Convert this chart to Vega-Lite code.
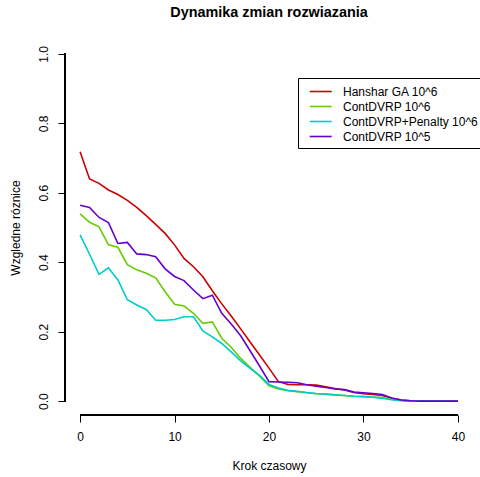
{
  "$schema": "https://vega.github.io/schema/vega-lite/v6.json",
  "width": 408,
  "height": 375,
  "autosize": "none",
  "padding": {"left": 65, "top": 40, "right": 7, "bottom": 62},
  "background": "white",
  "config": {
    "view": {"stroke": null},
    "font": "Liberation Sans",
    "axis": {
      "domain": false,
      "grid": false,
      "tickColor": "black",
      "tickSize": 7,
      "labelFont": "Liberation Sans",
      "labelFontSize": 12,
      "labelColor": "black",
      "titleFont": "Liberation Sans",
      "titleFontSize": 12,
      "titleFontWeight": "normal",
      "titleColor": "black"
    }
  },
  "title": {
    "text": "Dynamika zmian rozwiazania",
    "font": "Liberation Sans",
    "fontSize": 14.4,
    "fontWeight": "bold",
    "color": "black",
    "anchor": "middle",
    "frame": "group",
    "baseline": "alphabetic",
    "offset": 9
  },
  "data": {
    "values": [
      {"t":0,"s":"Hanshar GA 10^6","v":0.718},{"t":1,"s":"Hanshar GA 10^6","v":0.640},{"t":2,"s":"Hanshar GA 10^6","v":0.627},{"t":3,"s":"Hanshar GA 10^6","v":0.608},{"t":4,"s":"Hanshar GA 10^6","v":0.595},{"t":5,"s":"Hanshar GA 10^6","v":0.578},{"t":6,"s":"Hanshar GA 10^6","v":0.558},{"t":7,"s":"Hanshar GA 10^6","v":0.534},{"t":8,"s":"Hanshar GA 10^6","v":0.509},{"t":9,"s":"Hanshar GA 10^6","v":0.483},{"t":10,"s":"Hanshar GA 10^6","v":0.450},{"t":11,"s":"Hanshar GA 10^6","v":0.411},{"t":12,"s":"Hanshar GA 10^6","v":0.387},{"t":13,"s":"Hanshar GA 10^6","v":0.358},{"t":14,"s":"Hanshar GA 10^6","v":0.318},{"t":15,"s":"Hanshar GA 10^6","v":0.280},{"t":16,"s":"Hanshar GA 10^6","v":0.245},{"t":17,"s":"Hanshar GA 10^6","v":0.208},{"t":18,"s":"Hanshar GA 10^6","v":0.170},{"t":19,"s":"Hanshar GA 10^6","v":0.133},{"t":20,"s":"Hanshar GA 10^6","v":0.095},{"t":21,"s":"Hanshar GA 10^6","v":0.056},{"t":22,"s":"Hanshar GA 10^6","v":0.048},{"t":23,"s":"Hanshar GA 10^6","v":0.047},{"t":24,"s":"Hanshar GA 10^6","v":0.047},{"t":25,"s":"Hanshar GA 10^6","v":0.046},{"t":26,"s":"Hanshar GA 10^6","v":0.041},{"t":27,"s":"Hanshar GA 10^6","v":0.036},{"t":28,"s":"Hanshar GA 10^6","v":0.032},{"t":29,"s":"Hanshar GA 10^6","v":0.025},{"t":30,"s":"Hanshar GA 10^6","v":0.021},{"t":31,"s":"Hanshar GA 10^6","v":0.019},{"t":32,"s":"Hanshar GA 10^6","v":0.016},{"t":33,"s":"Hanshar GA 10^6","v":0.008},{"t":34,"s":"Hanshar GA 10^6","v":0.003},{"t":35,"s":"Hanshar GA 10^6","v":0.001},{"t":36,"s":"Hanshar GA 10^6","v":0.0},{"t":37,"s":"Hanshar GA 10^6","v":0.0},{"t":38,"s":"Hanshar GA 10^6","v":0.0},{"t":39,"s":"Hanshar GA 10^6","v":0.0},{"t":40,"s":"Hanshar GA 10^6","v":0.0},
      {"t":0,"s":"ContDVRP 10^6","v":0.539},{"t":1,"s":"ContDVRP 10^6","v":0.515},{"t":2,"s":"ContDVRP 10^6","v":0.502},{"t":3,"s":"ContDVRP 10^6","v":0.450},{"t":4,"s":"ContDVRP 10^6","v":0.443},{"t":5,"s":"ContDVRP 10^6","v":0.393},{"t":6,"s":"ContDVRP 10^6","v":0.378},{"t":7,"s":"ContDVRP 10^6","v":0.368},{"t":8,"s":"ContDVRP 10^6","v":0.355},{"t":9,"s":"ContDVRP 10^6","v":0.315},{"t":10,"s":"ContDVRP 10^6","v":0.279},{"t":11,"s":"ContDVRP 10^6","v":0.274},{"t":12,"s":"ContDVRP 10^6","v":0.253},{"t":13,"s":"ContDVRP 10^6","v":0.224},{"t":14,"s":"ContDVRP 10^6","v":0.228},{"t":15,"s":"ContDVRP 10^6","v":0.181},{"t":16,"s":"ContDVRP 10^6","v":0.155},{"t":17,"s":"ContDVRP 10^6","v":0.123},{"t":18,"s":"ContDVRP 10^6","v":0.097},{"t":19,"s":"ContDVRP 10^6","v":0.072},{"t":20,"s":"ContDVRP 10^6","v":0.044},{"t":21,"s":"ContDVRP 10^6","v":0.035},{"t":22,"s":"ContDVRP 10^6","v":0.030},{"t":23,"s":"ContDVRP 10^6","v":0.027},{"t":24,"s":"ContDVRP 10^6","v":0.024},{"t":25,"s":"ContDVRP 10^6","v":0.021},{"t":26,"s":"ContDVRP 10^6","v":0.020},{"t":27,"s":"ContDVRP 10^6","v":0.018},{"t":28,"s":"ContDVRP 10^6","v":0.016},{"t":29,"s":"ContDVRP 10^6","v":0.014},{"t":30,"s":"ContDVRP 10^6","v":0.013},{"t":31,"s":"ContDVRP 10^6","v":0.012},{"t":32,"s":"ContDVRP 10^6","v":0.010},{"t":33,"s":"ContDVRP 10^6","v":0.005},{"t":34,"s":"ContDVRP 10^6","v":0.002},{"t":35,"s":"ContDVRP 10^6","v":0.0},{"t":36,"s":"ContDVRP 10^6","v":0.0},{"t":37,"s":"ContDVRP 10^6","v":0.0},{"t":38,"s":"ContDVRP 10^6","v":0.0},{"t":39,"s":"ContDVRP 10^6","v":0.0},{"t":40,"s":"ContDVRP 10^6","v":0.0},
      {"t":0,"s":"ContDVRP+Penalty 10^6","v":0.479},{"t":1,"s":"ContDVRP+Penalty 10^6","v":0.423},{"t":2,"s":"ContDVRP+Penalty 10^6","v":0.365},{"t":3,"s":"ContDVRP+Penalty 10^6","v":0.384},{"t":4,"s":"ContDVRP+Penalty 10^6","v":0.349},{"t":5,"s":"ContDVRP+Penalty 10^6","v":0.292},{"t":6,"s":"ContDVRP+Penalty 10^6","v":0.277},{"t":7,"s":"ContDVRP+Penalty 10^6","v":0.264},{"t":8,"s":"ContDVRP+Penalty 10^6","v":0.233},{"t":9,"s":"ContDVRP+Penalty 10^6","v":0.233},{"t":10,"s":"ContDVRP+Penalty 10^6","v":0.235},{"t":11,"s":"ContDVRP+Penalty 10^6","v":0.243},{"t":12,"s":"ContDVRP+Penalty 10^6","v":0.243},{"t":13,"s":"ContDVRP+Penalty 10^6","v":0.202},{"t":14,"s":"ContDVRP+Penalty 10^6","v":0.185},{"t":15,"s":"ContDVRP+Penalty 10^6","v":0.166},{"t":16,"s":"ContDVRP+Penalty 10^6","v":0.142},{"t":17,"s":"ContDVRP+Penalty 10^6","v":0.116},{"t":18,"s":"ContDVRP+Penalty 10^6","v":0.094},{"t":19,"s":"ContDVRP+Penalty 10^6","v":0.074},{"t":20,"s":"ContDVRP+Penalty 10^6","v":0.048},{"t":21,"s":"ContDVRP+Penalty 10^6","v":0.038},{"t":22,"s":"ContDVRP+Penalty 10^6","v":0.031},{"t":23,"s":"ContDVRP+Penalty 10^6","v":0.028},{"t":24,"s":"ContDVRP+Penalty 10^6","v":0.025},{"t":25,"s":"ContDVRP+Penalty 10^6","v":0.022},{"t":26,"s":"ContDVRP+Penalty 10^6","v":0.020},{"t":27,"s":"ContDVRP+Penalty 10^6","v":0.018},{"t":28,"s":"ContDVRP+Penalty 10^6","v":0.016},{"t":29,"s":"ContDVRP+Penalty 10^6","v":0.014},{"t":30,"s":"ContDVRP+Penalty 10^6","v":0.013},{"t":31,"s":"ContDVRP+Penalty 10^6","v":0.011},{"t":32,"s":"ContDVRP+Penalty 10^6","v":0.008},{"t":33,"s":"ContDVRP+Penalty 10^6","v":0.004},{"t":34,"s":"ContDVRP+Penalty 10^6","v":0.001},{"t":35,"s":"ContDVRP+Penalty 10^6","v":0.0},{"t":36,"s":"ContDVRP+Penalty 10^6","v":0.0},{"t":37,"s":"ContDVRP+Penalty 10^6","v":0.0},{"t":38,"s":"ContDVRP+Penalty 10^6","v":0.0},{"t":39,"s":"ContDVRP+Penalty 10^6","v":0.0},{"t":40,"s":"ContDVRP+Penalty 10^6","v":0.0},
      {"t":0,"s":"ContDVRP 10^5","v":0.564},{"t":1,"s":"ContDVRP 10^5","v":0.558},{"t":2,"s":"ContDVRP 10^5","v":0.529},{"t":3,"s":"ContDVRP 10^5","v":0.514},{"t":4,"s":"ContDVRP 10^5","v":0.454},{"t":5,"s":"ContDVRP 10^5","v":0.457},{"t":6,"s":"ContDVRP 10^5","v":0.424},{"t":7,"s":"ContDVRP 10^5","v":0.422},{"t":8,"s":"ContDVRP 10^5","v":0.416},{"t":9,"s":"ContDVRP 10^5","v":0.381},{"t":10,"s":"ContDVRP 10^5","v":0.359},{"t":11,"s":"ContDVRP 10^5","v":0.347},{"t":12,"s":"ContDVRP 10^5","v":0.320},{"t":13,"s":"ContDVRP 10^5","v":0.295},{"t":14,"s":"ContDVRP 10^5","v":0.305},{"t":15,"s":"ContDVRP 10^5","v":0.253},{"t":16,"s":"ContDVRP 10^5","v":0.222},{"t":17,"s":"ContDVRP 10^5","v":0.188},{"t":18,"s":"ContDVRP 10^5","v":0.145},{"t":19,"s":"ContDVRP 10^5","v":0.101},{"t":20,"s":"ContDVRP 10^5","v":0.056},{"t":21,"s":"ContDVRP 10^5","v":0.055},{"t":22,"s":"ContDVRP 10^5","v":0.054},{"t":23,"s":"ContDVRP 10^5","v":0.053},{"t":24,"s":"ContDVRP 10^5","v":0.047},{"t":25,"s":"ContDVRP 10^5","v":0.043},{"t":26,"s":"ContDVRP 10^5","v":0.039},{"t":27,"s":"ContDVRP 10^5","v":0.035},{"t":28,"s":"ContDVRP 10^5","v":0.033},{"t":29,"s":"ContDVRP 10^5","v":0.026},{"t":30,"s":"ContDVRP 10^5","v":0.024},{"t":31,"s":"ContDVRP 10^5","v":0.022},{"t":32,"s":"ContDVRP 10^5","v":0.019},{"t":33,"s":"ContDVRP 10^5","v":0.009},{"t":34,"s":"ContDVRP 10^5","v":0.003},{"t":35,"s":"ContDVRP 10^5","v":0.001},{"t":36,"s":"ContDVRP 10^5","v":0.0},{"t":37,"s":"ContDVRP 10^5","v":0.0},{"t":38,"s":"ContDVRP 10^5","v":0.0},{"t":39,"s":"ContDVRP 10^5","v":0.0},{"t":40,"s":"ContDVRP 10^5","v":0.0}
    ]
  },
  "layer": [
    {
      "mark": {"type": "line", "strokeWidth": 1.6, "clip": false},
      "encoding": {
        "x": {
          "field": "t", "type": "quantitative",
          "scale": {"domain": [-1.6, 41.6], "nice": false, "zero": false},
          "axis": {
            "values": [0, 10, 20, 30, 40],
            "title": "Krok czasowy",
            "labelPadding": 9,
            "labelBaseline": "top",
            "titleY": 45,
            "titleBaseline": "top"
          }
        },
        "y": {
          "field": "v", "type": "quantitative",
          "scale": {"domain": [-0.04, 1.04], "nice": false, "zero": false},
          "axis": {
            "values": [0, 0.2, 0.4, 0.6, 0.8, 1.0],
            "format": ".1f",
            "title": "Wzgledne róznice",
            "labelAngle": 270,
            "labelAlign": "center",
            "labelBaseline": "alphabetic",
            "labelPadding": 11,
            "titleAngle": 270,
            "titleBaseline": "alphabetic",
            "titleX": -46
          }
        },
        "color": {
          "field": "s", "type": "nominal",
          "sort": ["Hanshar GA 10^6", "ContDVRP 10^6", "ContDVRP+Penalty 10^6", "ContDVRP 10^5"],
          "scale": {
            "domain": ["Hanshar GA 10^6", "ContDVRP 10^6", "ContDVRP+Penalty 10^6", "ContDVRP 10^5"],
            "range": ["#CC0000", "#66CC00", "#00CCCC", "#6600CC"]
          },
          "legend": {
            "orient": "none",
            "direction": "vertical",
            "legendX": 233,
            "legendY": 38,
            "title": null,
            "strokeColor": "black",
            "fillColor": "white",
            "padding": 5,
            "cornerRadius": 0,
            "rowPadding": 0,
            "symbolType": "M-0.24,0H2.69",
            "symbolSize": 225,
            "symbolStrokeWidth": 1.6,
            "labelOffset": 23,
            "labelFont": "Liberation Sans",
            "labelFontSize": 12,
            "labelColor": "black",
            "labelLimit": 300
          }
        }
      }
    },
    {
      "mark": {"type": "rule", "color": "black", "strokeWidth": 1},
      "encoding": {"x": {"datum": 0}, "x2": {"datum": 40}, "y": {"datum": -0.04}}
    },
    {
      "mark": {"type": "rule", "color": "black", "strokeWidth": 1},
      "encoding": {"x": {"datum": -1.6}, "y": {"datum": 0}, "y2": {"datum": 1}}
    }
  ]
}
